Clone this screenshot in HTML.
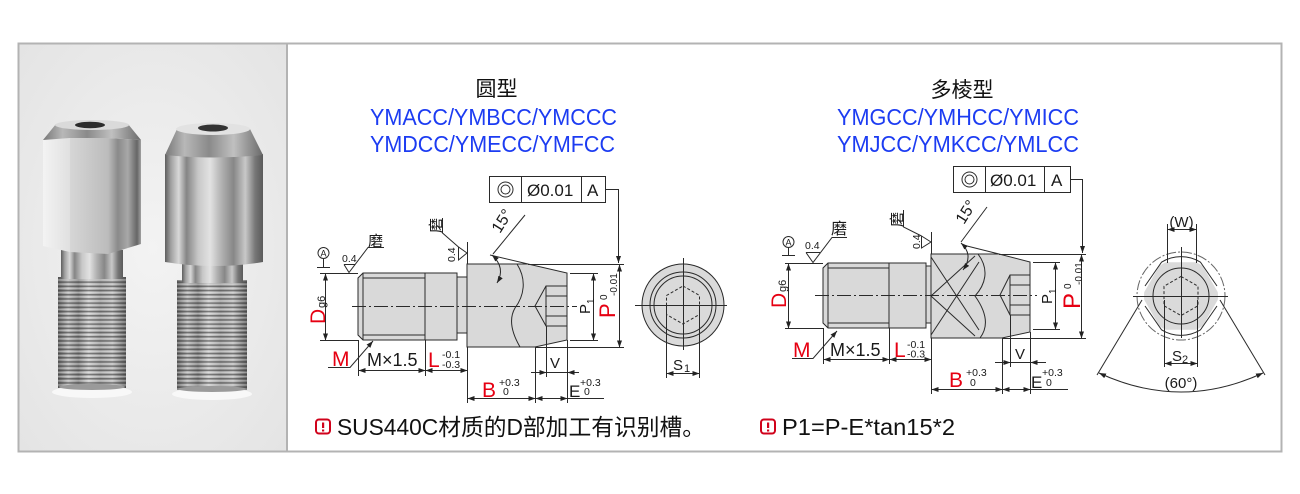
<!DOCTYPE html>
<html><head><meta charset="utf-8">
<style>
html,body{margin:0;padding:0;background:#fff;}
svg{display:block;}
text{font-family:"Liberation Sans","Noto Sans CJK SC",sans-serif;}
.cjk{font-family:"Liberation Sans","Noto Sans CJK SC",sans-serif;}
</style></head><body>
<svg width="1300" height="494" viewBox="0 0 1300 494" xmlns="http://www.w3.org/2000/svg">
<defs>
 <marker id="ar" markerUnits="userSpaceOnUse" markerWidth="7" markerHeight="5" refX="7" refY="2.5" orient="auto-start-reverse" viewBox="0 0 7 5"><path d="M0,0 L7,2.5 L0,5 z" fill="#222"/></marker>
 <radialGradient id="bg" cx="0.5" cy="0.5" r="0.75"><stop offset="0" stop-color="#f3f3f3"/><stop offset="1" stop-color="#e3e3e3"/></radialGradient>
 <linearGradient id="gC" x1="0" x2="1" y1="0" y2="0">
  <stop offset="0" stop-color="#5e5e5e"/><stop offset="0.06" stop-color="#a0a0a0"/><stop offset="0.14" stop-color="#d8d8d8"/><stop offset="0.22" stop-color="#858585"/><stop offset="0.34" stop-color="#c8c8c8"/><stop offset="0.46" stop-color="#e2e2e2"/><stop offset="0.58" stop-color="#b0b0b0"/><stop offset="0.7" stop-color="#878787"/><stop offset="0.82" stop-color="#c8c8c8"/><stop offset="0.92" stop-color="#777"/><stop offset="1" stop-color="#5a5a5a"/>
 </linearGradient>
 <linearGradient id="gT" x1="0" x2="1" y1="0" y2="0">
  <stop offset="0" stop-color="#6a6a6a"/><stop offset="0.15" stop-color="#bdbdbd"/><stop offset="0.3" stop-color="#8a8a8a"/><stop offset="0.45" stop-color="#cfcfcf"/><stop offset="0.62" stop-color="#a4a4a4"/><stop offset="0.8" stop-color="#c2c2c2"/><stop offset="1" stop-color="#666"/>
 </linearGradient>
 <linearGradient id="gCh" x1="0" x2="1" y1="0" y2="0">
  <stop offset="0" stop-color="#777"/><stop offset="0.2" stop-color="#b8b8b8"/><stop offset="0.45" stop-color="#8a8a8a"/><stop offset="0.7" stop-color="#c0c0c0"/><stop offset="1" stop-color="#6a6a6a"/>
 </linearGradient>
 <linearGradient id="gL" x1="0" x2="1"><stop offset="0" stop-color="#f3f3f3"/><stop offset="1" stop-color="#e0e0e0"/></linearGradient>
 <linearGradient id="gM" x1="0" x2="1"><stop offset="0" stop-color="#d6d6d6"/><stop offset="1" stop-color="#bcbcbc"/></linearGradient>
 <linearGradient id="gR" x1="0" x2="1"><stop offset="0" stop-color="#bdbdbd"/><stop offset="0.3" stop-color="#8a8a8a"/><stop offset="0.6" stop-color="#a8a8a8"/><stop offset="0.88" stop-color="#666"/><stop offset="1" stop-color="#a0a0a0"/></linearGradient>
 <pattern id="thr" width="6" height="4.2" patternUnits="userSpaceOnUse"><rect x="0" y="0" width="6" height="1.5" fill="#2a2a2a" opacity="0.5"/><rect x="0" y="2.3" width="6" height="0.9" fill="#fff" opacity="0.35"/></pattern>
 <clipPath id="hexc"><polygon points="1142,296 1161.5,262.2 1200.5,262.2 1220,296 1200.5,329.8 1161.5,329.8"/></clipPath>
</defs>

<!-- frame -->
<rect x="19" y="44" width="268" height="407" fill="url(#bg)"/>
<rect x="18.5" y="43.5" width="1263" height="408" fill="none" stroke="#b3b3b3" stroke-width="2"/>
<line x1="287" y1="43" x2="287" y2="452" stroke="#b3b3b3" stroke-width="2"/>

<!-- PHOTO: left hex bolt -->
<ellipse cx="92" cy="392" rx="40" ry="6" fill="#f8f8f8"/>
<rect x="58" y="277" width="68" height="111" fill="url(#gT)"/>
<rect x="58" y="277" width="68" height="111" fill="url(#thr)"/>
<ellipse cx="92" cy="387" rx="33" ry="3" fill="#9a9a9a"/>
<rect x="61" y="250" width="62" height="29" fill="url(#gC)"/>
<polygon points="43,140 70,138 70,252 43,246" fill="url(#gL)"/>
<polygon points="70,138 108,138 108,254 70,252" fill="url(#gM)"/>
<polygon points="108,138 141,140 141,244 108,254" fill="url(#gR)"/>
<polygon points="43,140 56,124 128,124 141,140 108,138 70,138" fill="url(#gCh)"/>
<ellipse cx="92" cy="125" rx="37" ry="5" fill="#dadada"/>
<ellipse cx="90" cy="125" rx="15" ry="3.2" fill="#2c2c2c"/>

<!-- PHOTO: right round bolt -->
<ellipse cx="212" cy="394" rx="40" ry="6" fill="#f8f8f8"/>
<rect x="177" y="280" width="70" height="110" fill="url(#gT)"/>
<rect x="177" y="280" width="70" height="110" fill="url(#thr)"/>
<ellipse cx="212" cy="389" rx="34" ry="3" fill="#9a9a9a"/>
<rect x="182" y="262" width="61" height="21" fill="url(#gC)"/>
<path d="M165,154 L263,154 L263,262 Q214,270 165,262 Z" fill="url(#gC)"/>
<path d="M165,155 L177,129 L250,129 L263,155 Q214,160 165,155 Z" fill="url(#gCh)"/>
<ellipse cx="213" cy="129" rx="37" ry="6" fill="#e2e2e2"/>
<ellipse cx="213" cy="128" rx="15" ry="3.5" fill="#333"/>

<!-- ================= LEFT DIAGRAM ================= -->
<text x="496.5" y="96" font-size="21" text-anchor="middle" fill="#111" class="cjk">圆型</text>
<text x="370" y="125" font-size="23" fill="#1c3cf2" textLength="247" lengthAdjust="spacingAndGlyphs">YMACC/YMBCC/YMCCC</text>
<text x="370" y="152" font-size="23" fill="#1c3cf2" textLength="245" lengthAdjust="spacingAndGlyphs">YMDCC/YMECC/YMFCC</text>

<g stroke="#2a2a2a" stroke-width="1" fill="none">
 <rect x="489.5" y="176.5" width="116" height="26" fill="#fff"/>
 <line x1="521.5" y1="176.5" x2="521.5" y2="202.5"/>
 <line x1="581.5" y1="176.5" x2="581.5" y2="202.5"/>
 <circle cx="505.5" cy="189.5" r="7.5"/><circle cx="505.5" cy="189.5" r="4.5"/>
 <polyline points="605.5,189.5 618.5,189.5 618.5,263" marker-end="url(#ar)"/>

 <path d="M358,278 L363,273 L457,273 L457,340 L363,340 L358,335 Z" fill="#d9d9d9"/>
 <line x1="363" y1="278" x2="425" y2="278"/><line x1="363" y1="335" x2="425" y2="335"/>
 <line x1="363" y1="273" x2="363" y2="340"/><line x1="425" y1="273" x2="425" y2="340"/>
 <rect x="457" y="277" width="10" height="56" fill="#d9d9d9"/>
 <path d="M467,264 L528,264 L567,273 L567,340 L535,347 L467,347 Z" fill="#d9d9d9"/>
 <path d="M517,264 C527,280 524,296 515,308 C508,320 513,335 520,347"/>
 <path d="M567,286 L546,286 L535,306 L546,326 L567,326"/>
 <line x1="546" y1="286" x2="546" y2="326"/>
 <line x1="546" y1="296" x2="567" y2="296"/><line x1="546" y1="316" x2="567" y2="316"/>
 <line x1="352" y1="306.5" x2="577" y2="306.5" stroke-dasharray="14 3 2 3" stroke-width="0.9"/>

 <line x1="490" y1="255" x2="528" y2="264"/>
 <line x1="528" y1="264.5" x2="624" y2="264.5"/>
 <line x1="535" y1="347.5" x2="624" y2="347.5"/>
 <line x1="570" y1="273.5" x2="598" y2="273.5"/>
 <line x1="570" y1="340.5" x2="598" y2="340.5"/>
 <line x1="320" y1="273.5" x2="358" y2="273.5"/>
 <line x1="320" y1="340.5" x2="358" y2="340.5"/>
 <line x1="358.5" y1="340" x2="358.5" y2="376"/>
 <line x1="425.5" y1="340" x2="425.5" y2="376"/>
 <line x1="467.5" y1="242" x2="467.5" y2="264"/>
 <line x1="467.5" y1="347" x2="467.5" y2="403"/>
 <line x1="535.5" y1="347" x2="535.5" y2="403"/>
 <line x1="546.5" y1="326" x2="546.5" y2="377"/>
 <line x1="567.5" y1="340" x2="567.5" y2="403"/>

 <line x1="325.5" y1="273.5" x2="325.5" y2="340.5" marker-start="url(#ar)" marker-end="url(#ar)"/>
 <line x1="593.5" y1="273.5" x2="593.5" y2="340.5" marker-start="url(#ar)" marker-end="url(#ar)"/>
 <line x1="619.5" y1="264.5" x2="619.5" y2="347.5" marker-start="url(#ar)" marker-end="url(#ar)"/>
 <line x1="358.5" y1="370.5" x2="425.5" y2="370.5" marker-start="url(#ar)" marker-end="url(#ar)"/>
 <line x1="425.5" y1="370.5" x2="467.5" y2="370.5" marker-start="url(#ar)" marker-end="url(#ar)"/>
 <line x1="467.5" y1="398.5" x2="535.5" y2="398.5" marker-start="url(#ar)" marker-end="url(#ar)"/>
 <line x1="535.5" y1="398.5" x2="567.5" y2="398.5" marker-start="url(#ar)" marker-end="url(#ar)"/>
 <line x1="567.5" y1="398.5" x2="604" y2="398.5"/>
 <line x1="531" y1="372.5" x2="546.5" y2="372.5" marker-end="url(#ar)"/>
 <line x1="579" y1="372.5" x2="567.5" y2="372.5" marker-end="url(#ar)"/>
 <line x1="546.5" y1="372.5" x2="567.5" y2="372.5"/>

 <circle cx="323.5" cy="253" r="5.5"/>
 <line x1="323.5" y1="258.5" x2="323.5" y2="267.5"/>
 <line x1="317" y1="267.5" x2="330" y2="267.5"/>
 <path d="M344,264.5 L355,264.5 M344,264.5 L349,272.5 L368,247.5 L384,247.5"/>
 <path d="M467,253 L458.5,247 L458.5,260 Z M458.5,247 L442.5,233 L442.5,218"/>
 <polyline points="328,367.5 350,367.5 373,341" marker-end="url(#ar)"/>
 <line x1="525" y1="215" x2="493" y2="254"/>
 <path d="M492,255 Q506,268 497,283" marker-start="url(#ar)" marker-end="url(#ar)"/>
</g>

<g fill="#1a1a1a">
 <text x="527" y="196" font-size="17">Ø0.01</text>
 <text x="587" y="196" font-size="17">A</text>
 <text x="323.5" y="256.5" font-size="9" text-anchor="middle">A</text>
 <text x="342" y="262" font-size="10.5">0.4</text>
 <text x="368" y="246" font-size="15" class="cjk">磨</text>
 <text transform="translate(441,233) rotate(-90)" font-size="15" class="cjk">磨</text>
 <text transform="translate(455,262) rotate(-90)" font-size="10.5">0.4</text>
 <text transform="translate(500,234) rotate(-58)" font-size="16">15°</text>
 <text x="367" y="366" font-size="18">M×1.5</text>
 <text x="442" y="358" font-size="10.5">-0.1</text>
 <text x="442" y="368" font-size="10.5">-0.3</text>
 <text x="499" y="386" font-size="10.5">+0.3</text>
 <text x="503" y="395" font-size="10.5">0</text>
 <text x="569" y="397" font-size="17">E</text>
 <text x="580" y="386" font-size="10.5">+0.3</text>
 <text x="584" y="395" font-size="10.5">0</text>
 <text x="550" y="368" font-size="15">V</text>
 <g transform="translate(590,314) rotate(-90)"><text x="0" y="0" font-size="15">P</text><text x="10" y="4" font-size="10">1</text></g>
 <g transform="translate(325,324) rotate(-90)"><text x="16" y="0" font-size="11">g6</text></g>
 <g transform="translate(615,318) rotate(-90)"><text x="18" y="-8" font-size="10">0</text><text x="22" y="2" font-size="10">-0.01</text></g>
</g>
<g fill="#e60012">
 <text x="332" y="366" font-size="21">M</text>
 <text x="428" y="367" font-size="21">L</text>
 <text x="482" y="397" font-size="21">B</text>
 <text transform="translate(325,324) rotate(-90)" font-size="21">D</text>
 <text transform="translate(615,318) rotate(-90)" font-size="22">P</text>
</g>

<!-- left end view -->
<g stroke="#2a2a2a" stroke-width="1" fill="none">
 <circle cx="683" cy="305" r="41" fill="#dadada"/>
 <circle cx="683" cy="305" r="33"/>
 <circle cx="683" cy="305" r="29"/>
 <polygon points="683,286 699.5,295.5 699.5,314.5 683,324 666.5,314.5 666.5,295.5" stroke-dasharray="3 2"/>
 <line x1="635" y1="305.5" x2="727" y2="305.5"/>
 <line x1="683.5" y1="258" x2="683.5" y2="350"/>
 <line x1="666.5" y1="306" x2="666.5" y2="378"/>
 <line x1="699.5" y1="306" x2="699.5" y2="378"/>
 <line x1="666.5" y1="373.5" x2="699.5" y2="373.5" marker-start="url(#ar)" marker-end="url(#ar)"/>
</g>
<text x="673" y="370" font-size="15" fill="#1a1a1a">S</text>
<text x="684" y="372" font-size="11" fill="#1a1a1a">1</text>

<!-- ================= RIGHT DIAGRAM ================= -->
<text x="962" y="97" font-size="21" text-anchor="middle" fill="#111" class="cjk">多棱型</text>
<text x="837" y="125" font-size="23" fill="#1c3cf2" textLength="242" lengthAdjust="spacingAndGlyphs">YMGCC/YMHCC/YMICC</text>
<text x="837" y="152" font-size="23" fill="#1c3cf2" textLength="242" lengthAdjust="spacingAndGlyphs">YMJCC/YMKCC/YMLCC</text>

<g stroke="#2a2a2a" stroke-width="1" fill="none">
 <rect x="953.5" y="166.5" width="117" height="26" fill="#fff"/>
 <line x1="985.5" y1="166.5" x2="985.5" y2="192.5"/>
 <line x1="1044.5" y1="166.5" x2="1044.5" y2="192.5"/>
 <circle cx="969.5" cy="179.5" r="7.5"/><circle cx="969.5" cy="179.5" r="4.5"/>
 <polyline points="1070.5,179.5 1082.5,179.5 1082.5,253" marker-end="url(#ar)"/>

 <path d="M823,268 L828,263 L926,263 L926,328 L828,328 L823,323 Z" fill="#d9d9d9"/>
 <line x1="828" y1="268" x2="889" y2="268"/><line x1="828" y1="323" x2="889" y2="323"/>
 <line x1="828" y1="263" x2="828" y2="328"/><line x1="889" y1="263" x2="889" y2="328"/>
 <rect x="926" y="266" width="5" height="57" fill="#d9d9d9"/>
 <path d="M931,254 L999,254 L1030,262 L1030,332 L1002,338 L931,338 Z" fill="#d9d9d9"/>
 <path d="M978,254 C990,270 985,285 975,296 C985,310 990,325 980,338"/>
 <line x1="931" y1="257" x2="979" y2="330"/>
 <line x1="931" y1="335" x2="979" y2="262"/>
 <line x1="931" y1="296" x2="975" y2="256"/>
 <line x1="931" y1="296" x2="975" y2="336"/>
 <path d="M1030,275 L1010,275 L1000,295 L1010,315 L1030,315"/>
 <line x1="1010" y1="275" x2="1010" y2="315"/>
 <line x1="1010" y1="285" x2="1030" y2="285"/><line x1="1010" y1="305" x2="1030" y2="305"/>
 <line x1="815" y1="295.5" x2="1037" y2="295.5" stroke-dasharray="14 3 2 3" stroke-width="0.9"/>

 <line x1="963" y1="245" x2="999" y2="254"/>
 <line x1="999" y1="254.5" x2="1086" y2="254.5"/>
 <line x1="1002" y1="338.5" x2="1086" y2="338.5"/>
 <line x1="1033" y1="262.5" x2="1060" y2="262.5"/>
 <line x1="1033" y1="329.5" x2="1060" y2="329.5"/>
 <line x1="785" y1="263.5" x2="823" y2="263.5"/>
 <line x1="785" y1="328.5" x2="823" y2="328.5"/>
 <line x1="823.5" y1="328" x2="823.5" y2="364"/>
 <line x1="889.5" y1="328" x2="889.5" y2="364"/>
 <line x1="931.5" y1="232" x2="931.5" y2="254"/>
 <line x1="931.5" y1="338" x2="931.5" y2="394"/>
 <line x1="1002.5" y1="338" x2="1002.5" y2="394"/>
 <line x1="1010.5" y1="315" x2="1010.5" y2="367"/>
 <line x1="1030.5" y1="332" x2="1030.5" y2="394"/>

 <line x1="788.5" y1="263.5" x2="788.5" y2="328.5" marker-start="url(#ar)" marker-end="url(#ar)"/>
 <line x1="1055.5" y1="262.5" x2="1055.5" y2="329.5" marker-start="url(#ar)" marker-end="url(#ar)"/>
 <line x1="1081.5" y1="254.5" x2="1081.5" y2="338.5" marker-start="url(#ar)" marker-end="url(#ar)"/>
 <line x1="823.5" y1="359.5" x2="889.5" y2="359.5" marker-start="url(#ar)" marker-end="url(#ar)"/>
 <line x1="889.5" y1="359.5" x2="931.5" y2="359.5" marker-start="url(#ar)" marker-end="url(#ar)"/>
 <line x1="931.5" y1="389.5" x2="1002.5" y2="389.5" marker-start="url(#ar)" marker-end="url(#ar)"/>
 <line x1="1002.5" y1="389.5" x2="1030.5" y2="389.5" marker-start="url(#ar)" marker-end="url(#ar)"/>
 <line x1="1030.5" y1="389.5" x2="1068" y2="389.5"/>
 <line x1="995" y1="362.5" x2="1010.5" y2="362.5" marker-end="url(#ar)"/>
 <line x1="1046" y1="362.5" x2="1030.5" y2="362.5" marker-end="url(#ar)"/>
 <line x1="1010.5" y1="362.5" x2="1030.5" y2="362.5"/>

 <circle cx="788.5" cy="242" r="5.5"/>
 <line x1="788.5" y1="247.5" x2="788.5" y2="255.5"/>
 <line x1="782" y1="255.5" x2="795" y2="255.5"/>
 <path d="M806,252.5 L820,252.5 M806,252.5 L813,262.5 L832,237.5 L847,237.5"/>
 <path d="M931,242 L921.5,236 L921.5,248 Z M921.5,236 L903.5,227 L903.5,210"/>
 <polyline points="792,358.5 813,358.5 837,331" marker-end="url(#ar)"/>
 <line x1="987" y1="207" x2="961" y2="242"/>
 <path d="M961,243 Q974,255 963,270" marker-start="url(#ar)" marker-end="url(#ar)"/>
</g>

<g fill="#1a1a1a">
 <text x="990" y="186" font-size="17">Ø0.01</text>
 <text x="1051" y="186" font-size="17">A</text>
 <text x="788.5" y="245.5" font-size="9" text-anchor="middle">A</text>
 <text x="805" y="249" font-size="10.5">0.4</text>
 <text x="831" y="234" font-size="16" class="cjk">磨</text>
 <text transform="translate(902,227) rotate(-90)" font-size="15" class="cjk">磨</text>
 <text transform="translate(920,249) rotate(-90)" font-size="10.5">0.4</text>
 <text transform="translate(964,225) rotate(-58)" font-size="16">15°</text>
 <text x="830" y="356" font-size="18">M×1.5</text>
 <text x="907" y="348" font-size="10.5">-0.1</text>
 <text x="907" y="357.5" font-size="10.5">-0.3</text>
 <text x="966" y="376" font-size="10.5">+0.3</text>
 <text x="970" y="386" font-size="10.5">0</text>
 <text x="1031" y="388" font-size="17">E</text>
 <text x="1042" y="376" font-size="10.5">+0.3</text>
 <text x="1046" y="386" font-size="10.5">0</text>
 <text x="1015" y="359" font-size="15">V</text>
 <g transform="translate(1052,304) rotate(-90)"><text x="0" y="0" font-size="15">P</text><text x="10" y="4" font-size="10">1</text></g>
 <g transform="translate(786,308) rotate(-90)"><text x="16" y="0" font-size="11">g6</text></g>
 <g transform="translate(1080,309) rotate(-90)"><text x="20" y="-9" font-size="10">0</text><text x="24" y="2" font-size="10">-0.01</text></g>
</g>
<g fill="#e60012">
 <text x="793" y="357" font-size="21">M</text>
 <text x="894" y="357" font-size="21">L</text>
 <text x="949" y="387" font-size="21">B</text>
 <text transform="translate(786,308) rotate(-90)" font-size="21">D</text>
 <text transform="translate(1080,309) rotate(-90)" font-size="24">P</text>
</g>

<!-- right end view -->
<g stroke="#2a2a2a" stroke-width="1" fill="none">
 <circle cx="1181" cy="296" r="44" stroke="#666" stroke-dasharray="10 2 2 2"/>
 <circle cx="1181" cy="296" r="37" fill="#dadada" stroke="none" clip-path="url(#hexc)"/>
 <path d="M1145,286 L1161.5,262.2 A37,37 0 0 1 1200.5,262.2 L1217,286 M1217,306 L1200.5,329.8 A37,37 0 0 1 1161.5,329.8 L1145,306"/>
 <circle cx="1181" cy="296" r="28"/>
 <polygon points="1181,276.5 1198,286.2 1198,305.8 1181,315.5 1164,305.8 1164,286.2" stroke-dasharray="3 2"/>
 <line x1="1133" y1="296.5" x2="1228" y2="296.5"/>
 <line x1="1181.5" y1="247" x2="1181.5" y2="338"/>
 <line x1="1167.5" y1="224" x2="1167.5" y2="263"/>
 <line x1="1196.5" y1="224" x2="1196.5" y2="263"/>
 <line x1="1167.5" y1="229.5" x2="1196.5" y2="229.5" marker-start="url(#ar)" marker-end="url(#ar)"/>
 <line x1="1164.5" y1="300" x2="1164.5" y2="367"/>
 <line x1="1197.5" y1="300" x2="1197.5" y2="367"/>
 <line x1="1164.5" y1="363.5" x2="1197.5" y2="363.5" marker-start="url(#ar)" marker-end="url(#ar)"/>
 <line x1="1142" y1="300" x2="1097" y2="375"/>
 <line x1="1220" y1="300" x2="1265" y2="375"/>
 <path d="M1099,373 Q1181,411 1263,373" marker-start="url(#ar)" marker-end="url(#ar)"/>
</g>
<g fill="#1a1a1a">
 <text x="1181.5" y="227" font-size="15" text-anchor="middle">(W)</text>
 <text x="1172" y="361" font-size="15">S</text>
 <text x="1182" y="363" font-size="11">2</text>
 <text x="1181" y="388" font-size="15" text-anchor="middle">(60°)</text>
</g>

<!-- bottom notes -->
<rect x="316" y="419.5" width="14" height="14" rx="3" fill="#fff" stroke="#d0021b" stroke-width="2"/>
<rect x="322" y="422.5" width="2.2" height="5.5" fill="#d0021b"/>
<rect x="322" y="429.5" width="2.2" height="2" fill="#d0021b"/>
<text x="337" y="435" font-size="23" fill="#111" class="cjk" textLength="368" lengthAdjust="spacingAndGlyphs">SUS440C材质的D部加工有识别槽。</text>

<rect x="761" y="419.5" width="14" height="14" rx="3" fill="#fff" stroke="#d0021b" stroke-width="2"/>
<rect x="767" y="422.5" width="2.2" height="5.5" fill="#d0021b"/>
<rect x="767" y="429.5" width="2.2" height="2" fill="#d0021b"/>
<text x="782" y="435" font-size="23" fill="#111" textLength="173" lengthAdjust="spacingAndGlyphs">P1=P-E*tan15*2</text>
</svg>
</body></html>
